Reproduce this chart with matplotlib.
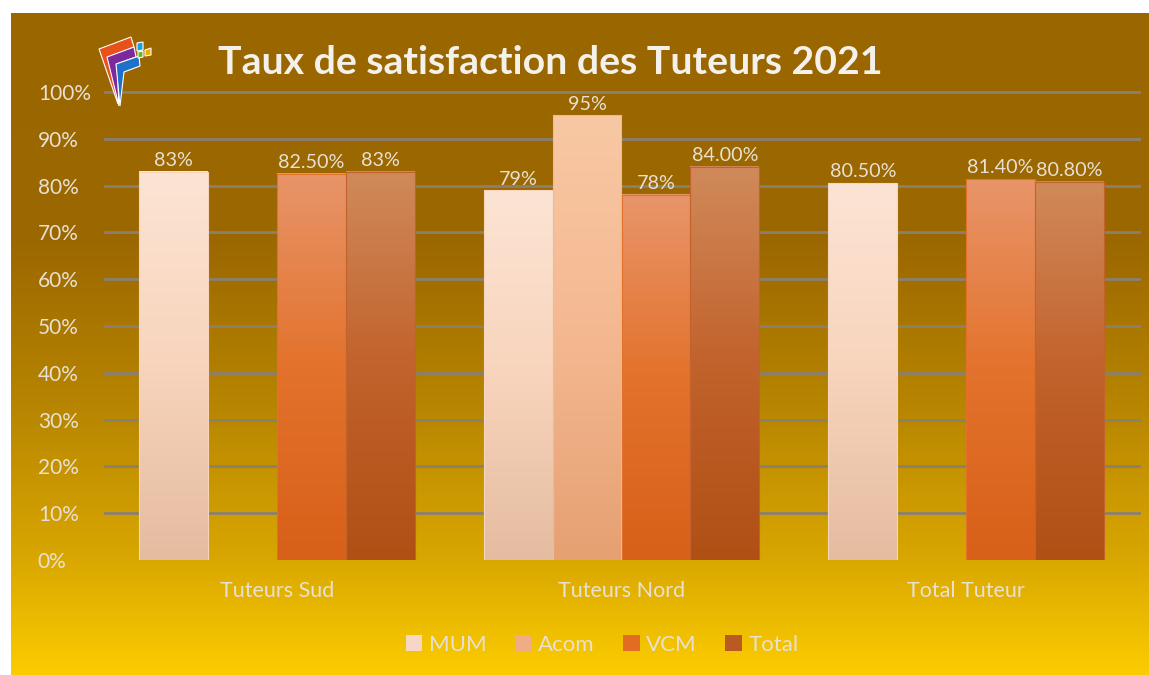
import numpy as np
import matplotlib.pyplot as plt
from matplotlib.patches import Polygon, Patch
from matplotlib.colors import to_rgb

categories = ['Tuteurs Sud', 'Tuteurs Nord', 'Total Tuteur']
series = ['MUM', 'Acom', 'VCM', 'Total']
mum = [83, 79, 80.5]
acom = [np.nan, 95, np.nan]
vcm = [82.5, 78, 81.4]
total = [83, 84, 80.8]
labels = {
    'MUM': ['83%', '79%', '80.50%'],
    'Acom': ['', '95%', ''],
    'VCM': ['82.50%', '78%', '81.40%'],
    'Total': ['83%', '84.00%', '80.80%'],
}
yticks = [0, 10, 20, 30, 40, 50, 60, 70, 80, 90, 100]

# top / middle / bottom colours of each bar gradient
grad = {
    'MUM': ['#fce4d4', '#f8d4bc', '#e4bca0'],
    'Acom': ['#f8c8a4', '#f4b890', '#e6a072'],
    'VCM': ['#e8956a', '#e3722c', '#d86018'],
    'Total': ['#d08a5a', '#c2622c', '#b05015'],
}
legend_col = {'MUM': '#f6d6c4', 'Acom': '#f0ac84', 'VCM': '#e26c22', 'Total': '#b85a22'}
txt_col = '#e8e0d2'

W, H = 1149, 675
fig = plt.figure(figsize=(W / 100, H / 100), dpi=100)
fig.patch.set_facecolor('white')
plt.rcParams['font.family'] = ['Lato', 'DejaVu Sans']

# background gradient
bg = fig.add_axes([11 / W, 0, 1 - 11 / W, (H - 13) / H])
bg.set_axis_off()
stops = [(0.0, '#996600'), (0.35, '#9c6800'), (0.6, '#b88600'), (0.82, '#d8a600'), (1.0, '#fccc00')]
t = np.linspace(0, 1, 400)
cols = np.array([to_rgb(c) for _, c in stops])
pos = [p for p, _ in stops]
img = np.stack([np.interp(t, pos, cols[:, k]) for k in range(3)], axis=1)[:, None, :]
bg.imshow(img, aspect='auto', extent=[0, 1, 0, 1], origin='upper')
bg.set_xlim(0, 1)
bg.set_ylim(0, 1)

ax = fig.add_axes([104.5 / W, (H - 560) / H, 1034 / W, 468 / H])
ax.set_facecolor('none')

x = np.arange(len(categories))
bw = 0.2
data = {'MUM': mum, 'Acom': acom, 'VCM': vcm, 'Total': total}
for i, s in enumerate(series):
    bars = ax.bar(x + (i - 1.5) * bw, data[s], bw, facecolor='none',
                  edgecolor=grad[s][1], linewidth=0.8, zorder=3)
    c3 = np.array([to_rgb(c) for c in grad[s]])
    tt = np.linspace(0, 1, 200)
    g = np.stack([np.interp(tt, [0, 0.5, 1], c3[:, k]) for k in range(3)], axis=1)[:, None, :]
    for r, lab in zip(bars, labels[s]):
        h = r.get_height()
        if not np.isfinite(h):
            continue
        ax.imshow(g, aspect='auto', origin='upper', zorder=2,
                  extent=[r.get_x(), r.get_x() + r.get_width(), 0, h])
        ax.annotate(lab, (r.get_x() + r.get_width() / 2, h), xytext=(0, 2),
                    textcoords='offset points', ha='center', va='bottom',
                    fontsize=14.2, color=txt_col, zorder=4)

ax.set_xlim(-0.5, 2.5)
ax.set_ylim(0, 100)
for yv in yticks[1:]:
    ax.axhline(yv, color='#8a8070', linewidth=2, zorder=1, clip_on=False)
for sp in ax.spines.values():
    sp.set_visible(False)
ax.set_yticks(yticks)
ax.set_yticklabels([f'{v}%' for v in yticks], fontsize=15, color=txt_col)
for tl in ax.get_yticklabels():
    tl.set_horizontalalignment('left')
ax.tick_params(axis='y', length=0, pad=48)
ax.set_xticks(x)
ax.set_xticklabels(categories, fontsize=15.5, color=txt_col)
ax.tick_params(axis='x', length=0, pad=15)

fig.text(550 / W, 1 - 63 / H, 'Taux de satisfaction des Tuteurs 2021', ha='center',
         va='center', fontsize=28.3, fontweight='bold', color='#f4f0ea')

handles = [Patch(facecolor=legend_col[s], edgecolor='none') for s in series]
fig.legend(handles, series, loc='center', bbox_to_anchor=(602 / W, 1 - 645 / H), ncol=4,
           frameon=False, fontsize=16, labelcolor=txt_col, handlelength=0.75,
           handleheight=0.75, handletextpad=0.3, columnspacing=1.27)

# small logo in the upper-left corner
def px(pts):
    return [(a / W, 1 - b / H) for a, b in pts]

logo = [
    ([(99, 49), (131, 37), (134, 47), (113, 56), (118, 104)], '#e8501c'),
    ([(107, 57), (134, 47), (136, 57), (117, 64), (119, 106)], '#7a2a9c'),
    ([(116, 64), (139, 56), (140, 66), (124, 72), (120, 106)], '#1e70c8'),
    ([(137, 43), (143, 42), (143, 50), (137, 51)], '#1aa0e0'),
    ([(138, 52), (143, 51), (143, 57), (138, 58)], '#68b030'),
    ([(145, 50), (151, 48), (151, 55), (145, 56)], '#f8a800'),
]
for pts, c in logo:
    fig.patches.append(Polygon(px(pts), closed=True, facecolor=c, edgecolor='white',
                               linewidth=0.8, transform=fig.transFigure, zorder=5))

plt.savefig('out.png', dpi=100)
